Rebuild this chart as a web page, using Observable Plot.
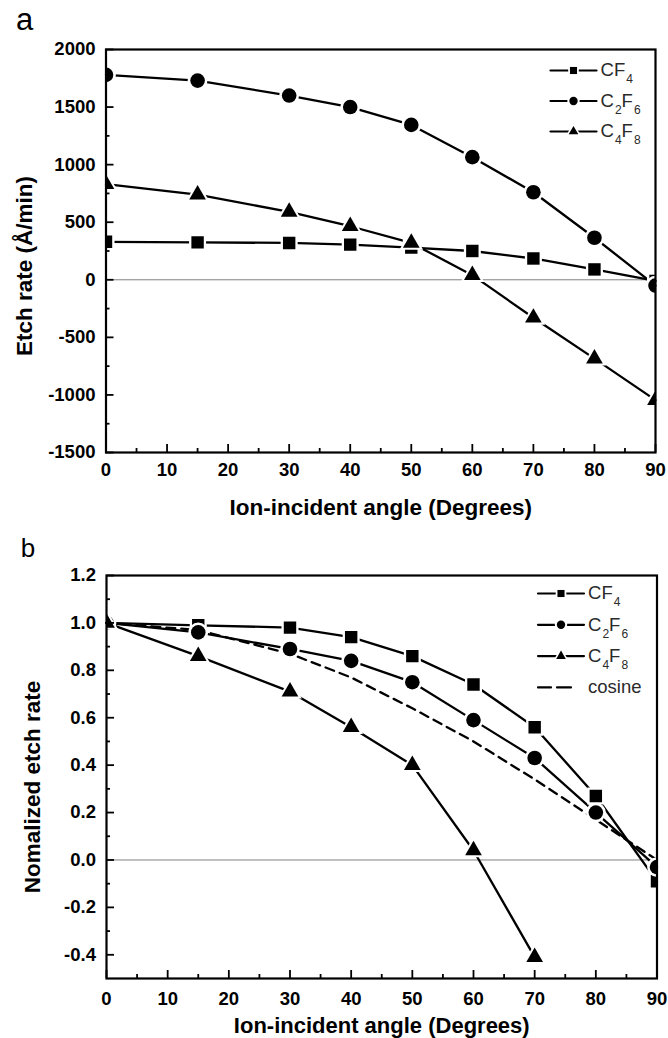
<!DOCTYPE html>
<html>
<head>
<meta charset="utf-8">
<script src="https://cdn.jsdelivr.net/npm/d3@7"></script>
<script src="https://cdn.jsdelivr.net/npm/@observablehq/plot@0.6"></script>
<style>
  body { margin: 0; background: #fff; }
  #chart { width: 668px; }
</style>
</head>
<body>
<div id="chart"></div>
<script>
// ---------- data ----------
const angles = [0, 15, 30, 40, 50, 60, 70, 80, 90];
const seriesNames = ["CF4", "C2F6", "C4F8"];
const seriesSymbols = ["square", "circle", "triangle"];

// panel a: etch rate (Å/min)
const etchCF4  = [330, 325, 320, 305, 280, 250, 185, 90, -10];
const etchC2F6 = [1780, 1730, 1600, 1500, 1345, 1065, 760, 365, -50];
const etchC4F8 = [830, 740, 590, 465, 320, 40, -330, -685, -1045];

// panel b: normalized etch rate
const normCF4  = [1.0, 0.99, 0.98, 0.94, 0.86, 0.74, 0.56, 0.27, -0.09];
const normC2F6 = [1.0, 0.96, 0.89, 0.84, 0.75, 0.59, 0.43, 0.20, -0.03];
const normC4F8 = [1.0, 0.86, 0.71, 0.56, 0.40, 0.04, -0.41];
const cosineVals = [1.0, 0.97, 0.87, 0.77, 0.64, 0.50, 0.34, 0.17, 0.0];

// ticks
const xTicks = [0, 10, 20, 30, 40, 50, 60, 70, 80, 90];
const xMinor = [5, 15, 25, 35, 45, 55, 65, 75, 85];
const yTicksA = [-1500, -1000, -500, 0, 500, 1000, 1500, 2000];
const yMinorA = [-1250, -750, -250, 250, 750, 1250, 1750];
const yTicksB = [-0.4, -0.2, 0.0, 0.2, 0.4, 0.6, 0.8, 1.0, 1.2];
const yMinorB = [-0.3, -0.1, 0.1, 0.3, 0.5, 0.7, 0.9, 1.1];

const xTitle = "Ion-incident angle (Degrees)";
const yTitleA = "Etch rate (Å/min)";
const yTitleB = "Nomalized etch rate";

// ---------- helpers ----------
const FONT = "'Liberation Sans', Arial, Helvetica, sans-serif";
function tidy(values, name) {
  return values.map((v, i) => ({angle: angles[i], value: v, series: name}));
}
const markerR = {square: 7, circle: 7.3, triangle: 6.2};
const legendR = {square: 4, circle: 4.2, triangle: 3.6};

function hline(x0, x1) {
  return {draw(ctx) { ctx.moveTo(x0, 0); ctx.lineTo(x1, 0); }};
}
function dashes(segs) {
  return {draw(ctx) { for (const [a, b] of segs) { ctx.moveTo(a, 0); ctx.lineTo(b, 0); } }};
}

function makePanel(cfg) {
  const marks = [];
  marks.push(Plot.ruleY([0], {stroke: "#808080", strokeWidth: 1}));
  if (cfg.cosine) {
    marks.push(Plot.line(cfg.cosine, {x: "angle", y: "value", stroke: "black", strokeWidth: 2.3, strokeDasharray: "9,6"}));
  }
  cfg.series.forEach((s) => {
    marks.push(Plot.line(s, {x: "angle", y: "value", stroke: "black", strokeWidth: 2.3}));
  });
  cfg.series.forEach((s, i) => {
    const sym = seriesSymbols[i];
    marks.push(Plot.dot(s, {x: "angle", y: "value", symbol: () => sym, r: markerR[sym] + 2.6, fill: "white", stroke: "none", clip: true}));
    marks.push(Plot.dot(s, {x: "angle", y: "value", symbol: () => sym, r: markerR[sym], fill: "black", stroke: "none", clip: true}));
  });
  // axes (ticks pointing inward)
  marks.push(Plot.axisX({ticks: xTicks, tickSize: -8, tickPadding: cfg.xPad, strokeWidth: 1.8, fontSize: 18.5, fontWeight: "bold", label: null, tickFormat: d => String(d)}));
  marks.push(Plot.axisX({ticks: xMinor, tickSize: -4, strokeWidth: 1.8, label: null, tickFormat: () => ""}));
  marks.push(Plot.axisY({ticks: cfg.yTicks, tickSize: -8, tickPadding: 18.5, strokeWidth: 1.8, fontSize: 18.5, fontWeight: "bold", label: null, tickFormat: cfg.yFormat}));
  marks.push(Plot.axisY({ticks: cfg.yMinor, tickSize: -4, strokeWidth: 1.8, label: null, tickFormat: () => ""}));
  marks.push(Plot.frame({stroke: "black", strokeWidth: 2.2}));
  // titles
  marks.push(Plot.text([xTitle], {text: d => d, frameAnchor: "bottom", textAnchor: "middle", lineAnchor: "middle", dy: cfg.xTitleDy, fontSize: cfg.xTitleSize, fontWeight: "bold"}));
  marks.push(Plot.text([cfg.yTitle], {text: d => d, frameAnchor: "left", textAnchor: "middle", lineAnchor: "middle", rotate: -90, dx: cfg.yTitleDx, dy: cfg.yTitleDy, fontSize: 22.5, fontWeight: "bold"}));
  marks.push(Plot.text([cfg.letter], {text: d => d, frameAnchor: "top-left", textAnchor: "middle", lineAnchor: "middle", dx: cfg.letterDx, dy: cfg.letterDy, fontSize: cfg.letterSize}));
  // legend
  const L = cfg.legend;
  const entries = seriesNames.map((n, i) => ({name: n, sym: seriesSymbols[i]}));
  entries.forEach((e, i) => {
    const dy = L.dy0 + i * L.step;
    marks.push(Plot.vector([e.name], {frameAnchor: "top-right", dx: L.dx, dy, anchor: "start", shape: hline(-23, 23), stroke: "black", strokeWidth: 2.2}));
    marks.push(Plot.dot([e.name], {frameAnchor: "top-right", dx: L.dx, dy, symbol: () => e.sym, r: legendR[e.sym] + 2, fill: "white"}));
    marks.push(Plot.dot([e.name], {frameAnchor: "top-right", dx: L.dx, dy, symbol: () => e.sym, r: legendR[e.sym], fill: "black"}));
    marks.push(Plot.text([e.name], {text: d => d, frameAnchor: "top-right", dx: L.textDx, dy, textAnchor: "start", lineAnchor: "middle", fontSize: 18.5, fill: "#2a2a2a"}));
  });
  if (cfg.cosine) {
    const dy = L.dy0 + 3 * L.step;
    marks.push(Plot.vector(["cosine"], {frameAnchor: "top-right", dx: L.dx, dy, anchor: "start", shape: dashes([[-23, -10], [-4, 10]]), stroke: "black", strokeWidth: 2.2}));
    marks.push(Plot.text(["cosine"], {text: d => d, frameAnchor: "top-right", dx: L.textDx, dy, textAnchor: "start", lineAnchor: "middle", fontSize: 18.5, fill: "#2a2a2a"}));
  }
  const svg = Plot.plot({
    width: 668,
    height: cfg.height,
    marginTop: cfg.mt, marginBottom: cfg.mb, marginLeft: cfg.ml, marginRight: cfg.mr,
    x: {domain: [0, 90]},
    y: {domain: cfg.yDomain},
    style: {fontFamily: FONT, color: "black", background: "white", overflow: "visible"},
    marks
  });
  // subscripts for chemical formulas
  d3.select(svg).selectAll("text").filter(function () {
    return /^C\d*F\d+$/.test(this.textContent);
  }).each(function () {
    const t = this.textContent;
    const sel = d3.select(this);
    sel.text(null);
    const parts = t.match(/[A-Z]|\d+/g);
    let sub = false;
    parts.forEach(p => {
      const isNum = /\d/.test(p);
      const ts = sel.append("tspan").text(p);
      if (isNum) { ts.attr("font-size", 12).attr("dy", sub ? 0 : 7).attr("dx", 1); sub = true; }
      else if (sub) { ts.attr("dy", -7); sub = false; }
    });
  });
  return svg;
}

const chart = document.getElementById("chart");

chart.appendChild(makePanel({
  letter: "a", letterDx: -81.5, letterDy: -29, letterSize: 31,
  series: [tidy(etchCF4, "CF4"), tidy(etchC2F6, "C2F6"), tidy(etchC4F8, "C4F8")],
  cosine: null,
  yDomain: [-1500, 2000], yTicks: yTicksA, yMinor: yMinorA, yFormat: d => String(d),
  yTitle: yTitleA, yTitleDx: -81, yTitleDy: 15,
  xPad: 18, xTitleDy: 55, xTitleSize: 22.5,
  height: 520, mt: 49, mb: 68, ml: 105.5, mr: 13,
  legend: {dx: -82, textDx: -55, dy0: 21, step: 30.5}
}));

chart.appendChild(makePanel({
  letter: "b", letterDx: -78.5, letterDy: -27, letterSize: 26,
  series: [tidy(normCF4, "CF4"), tidy(normC2F6, "C2F6"), tidy(normC4F8, "C4F8")],
  cosine: tidy(cosineVals, "cosine"),
  yDomain: [-0.5, 1.2], yTicks: yTicksB, yMinor: yMinorB,
  yFormat: d => (d < 0 ? "-" : "") + Math.abs(d).toFixed(1),
  yTitle: yTitleB, yTitleDx: -74, yTitleDy: 10,
  xPad: 21, xTitleDy: 47, xTitleSize: 22,
  height: 518, mt: 55, mb: 60, ml: 106, mr: 11.5,
  legend: {dx: -96, textDx: -69, dy0: 18, step: 31.3}
}));
</script>
</body>
</html>
